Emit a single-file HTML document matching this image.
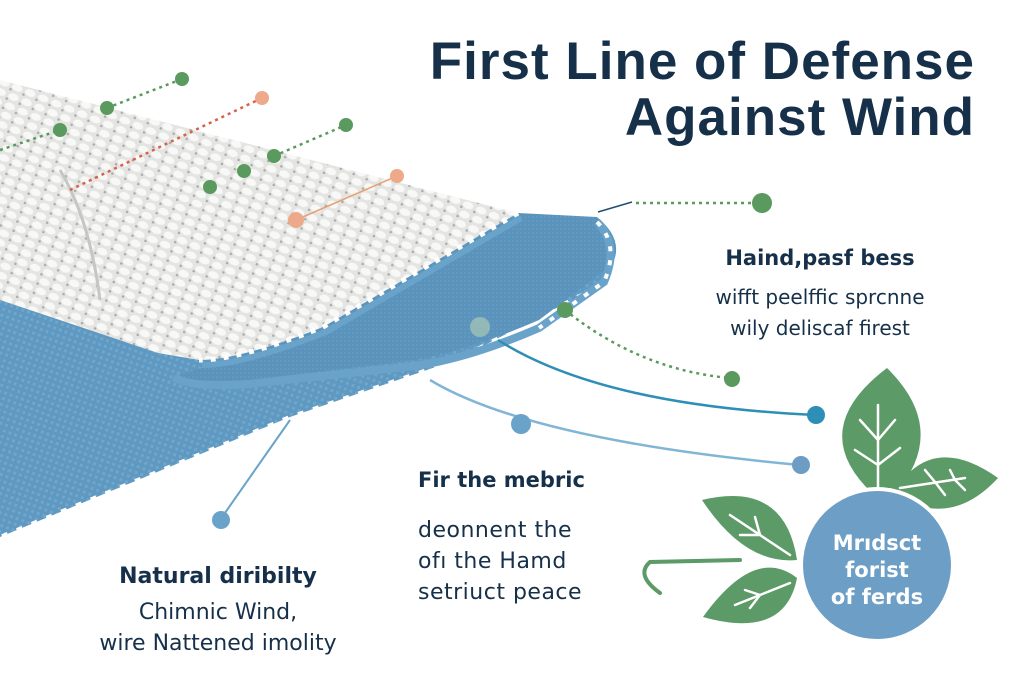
<!DOCTYPE html>
<html><head><meta charset="utf-8"><style>
html,body{margin:0;padding:0;background:#fff;}
#c{position:relative;width:1024px;height:683px;overflow:hidden;background:#fff;font-family:"DejaVu Sans","Liberation Sans",sans-serif;}
.t{position:absolute;color:#16304a;white-space:nowrap;}
</style></head><body><div id="c">
<svg width="1024" height="683" style="position:absolute;left:0;top:0">
<defs>
<pattern id="knit" width="14" height="10" patternUnits="userSpaceOnUse" patternTransform="rotate(22)">
<rect width="14" height="10" fill="#e4e5e3"/>
<ellipse cx="7" cy="5" rx="5.5" ry="3.6" fill="#f8f8f6"/>
<circle cx="1" cy="9" r="1.4" fill="#a9acaa"/>
</pattern>
<pattern id="blue" width="6" height="6" patternUnits="userSpaceOnUse" patternTransform="rotate(20)">
<rect width="6" height="6" fill="#5f98c0"/>
<rect width="3" height="3" fill="#6ea6cc"/>
</pattern>
<pattern id="blue2" width="4" height="4" patternUnits="userSpaceOnUse">
<rect width="4" height="4" fill="#5a93bb"/>
<rect width="2" height="2" fill="#6399bf"/>
</pattern>
</defs>
<!-- bottom blue layer -->
<path d="M0,280 L520,215 L600,250 Q615,275 597,287 L456,360 L290,417 L0,537 Z" fill="url(#blue)"/>
<path d="M597,287 L456,360 L290,417 L0,537" fill="none" stroke="#fff" stroke-width="4" stroke-dasharray="6 10"/>
<!-- curl underside -->
<path d="M518,213 L597,217 Q625,240 612,265 L539,320 Q470,350 415,360 L249,380 Q190,385 174,377 L323,327 Z" fill="url(#blue2)"/>
<path d="M597,222 Q620,245 604,282 L539,328 Q470,358 415,366 L249,384 Q190,388 174,377" fill="none" stroke="#6aa3ca" stroke-width="8"/>
<path d="M597,222 Q620,245 604,282 L539,328" fill="none" stroke="#fff" stroke-width="4" stroke-dasharray="5 9"/>
<!-- white layer -->
<path d="M0,80 L518,213 L323,327 Q240,360 199,360 L158,353 L0,300 Z" fill="url(#knit)"/>
<path d="M518,213 L323,327 Q240,360 199,360" fill="none" stroke="#6aa3ca" stroke-width="6" transform="translate(3,5)"/>
<path d="M518,213 L323,327 Q240,360 199,360" fill="none" stroke="#fff" stroke-width="5" stroke-dasharray="5 8"/>
<path d="M60,170 Q90,220 100,300" stroke="#c5c7c5" stroke-width="3" fill="none"/>
<!-- lines -->
<g stroke-width="2.5" fill="none">
<path d="M0,150 L60,130" stroke="#5a9a5e" stroke-dasharray="3 4"/>
<path d="M107,108 L182,79" stroke="#5a9a5e" stroke-dasharray="3 4"/>
<path d="M262,98 L70,190" stroke="#d9604a" stroke-dasharray="3 4"/>
<path d="M274,156 L346,125" stroke="#5a9a5e" stroke-dasharray="3 4"/>
<path d="M296,220 L397,176" stroke="#e8a070" stroke-width="1.5"/>
<path d="M598,212 L632,202" stroke="#1f4f70" stroke-width="1.5"/>
<path d="M636,203 L760,203" stroke="#5a9a5e" stroke-dasharray="3 4"/>
<path d="M565,310 Q640,370 730,378" stroke="#5a9a5e" stroke-dasharray="3 4"/>
<path d="M498,340 Q600,405 815,415" stroke="#2d8fb5" stroke-width="2.5"/>
<path d="M430,380 Q530,440 800,465" stroke="#80b5d6" stroke-width="2.5"/>
<path d="M290,420 L220,520" stroke="#6aa3ca" stroke-width="2"/>
</g>
<g fill="#5a9a5e">
<circle cx="60" cy="130" r="7"/><circle cx="107" cy="108" r="7"/><circle cx="182" cy="79" r="7"/>
<circle cx="346" cy="125" r="7"/><circle cx="274" cy="156" r="7"/><circle cx="244" cy="171" r="7"/><circle cx="210" cy="187" r="7"/>
<circle cx="762" cy="203" r="10"/><circle cx="565" cy="310" r="8"/><circle cx="732" cy="379" r="8"/>
</g>
<g fill="#eda98a"><circle cx="262" cy="98" r="7"/><circle cx="397" cy="176" r="7"/><circle cx="296" cy="220" r="8"/></g>
<circle cx="480" cy="327" r="10" fill="#93b8b8"/>
<circle cx="816" cy="415" r="9" fill="#2d8fb5"/>
<circle cx="801" cy="465" r="9" fill="#6d9cc4"/>
<circle cx="521" cy="424" r="10" fill="#6aa3ca"/>
<circle cx="221" cy="520" r="9" fill="#6aa3ca"/>
<!-- leaves -->
<g fill="#5c9a68">
<path d="M873,494 Q805,430 887,368 Q950,430 895,494 Z"/>
<path d="M893,494 Q930,430 998,478 Q950,530 893,494 Z"/>
<path d="M797,560 Q745,565 702,500 Q785,480 797,560 Z"/>
<path d="M797,578 Q755,545 703,617 Q785,640 797,578 Z"/>
</g>
<g stroke="#fff" stroke-width="2.5" fill="none" stroke-linecap="round">
<path d="M878,488 L878,405 M878,440 L860,420 M878,440 L895,420 M878,465 L855,450 M878,465 L900,448"/>
<path d="M900,488 L965,478 M935,482 L925,470 M935,482 L945,495 M955,480 L950,470 M955,480 L965,490"/>
<path d="M790,555 L730,515 M760,535 L740,535 M760,535 L755,517"/>
<path d="M790,583 L735,605 M760,595 L745,590 M760,595 L750,608"/>
</g>
<path d="M740,560 L650,562 Q635,575 660,593" stroke="#5c9a68" stroke-width="4" fill="none" stroke-linecap="round"/>
<circle cx="877" cy="565" r="78" fill="#fff"/>
<circle cx="877" cy="565" r="74" fill="#6d9fc6"/>
</svg>
<div class="t" style="right:49px;top:34px;font-family:'Liberation Sans',sans-serif;font-size:53px;font-weight:bold;text-align:right;line-height:56px;letter-spacing:1px">First Line of Defense<br>Against Wind</div>
<div class="t" style="left:680px;top:246px;width:280px;text-align:center;font-size:21px;font-weight:bold">Haind,pasf bess</div>
<div class="t" style="left:680px;top:282px;width:280px;text-align:center;font-size:20px;line-height:31px">wifft peelffic sprcnne<br>wily deliscaf firest</div>
<div class="t" style="left:418px;top:468px;font-size:21px;font-weight:bold">Fir the mebric</div>
<div class="t" style="left:418px;top:515px;font-size:22px;line-height:31px;letter-spacing:0.5px">deonnent the<br>ofı the Hamd<br>setriuct peace</div>
<div class="t" style="left:60px;top:564px;width:316px;text-align:center;font-size:22px;font-weight:bold">Natural diribilty</div>
<div class="t" style="left:60px;top:597px;width:316px;text-align:center;font-size:22px;line-height:31px">Chimnic Wind,<br>wire Nattened imolity</div>
<div class="t" style="left:797px;top:530px;width:160px;text-align:center;font-size:21px;font-weight:bold;color:#fff;line-height:27px">Mrıdsct<br>forist<br>of ferds</div>
</div></body></html>
